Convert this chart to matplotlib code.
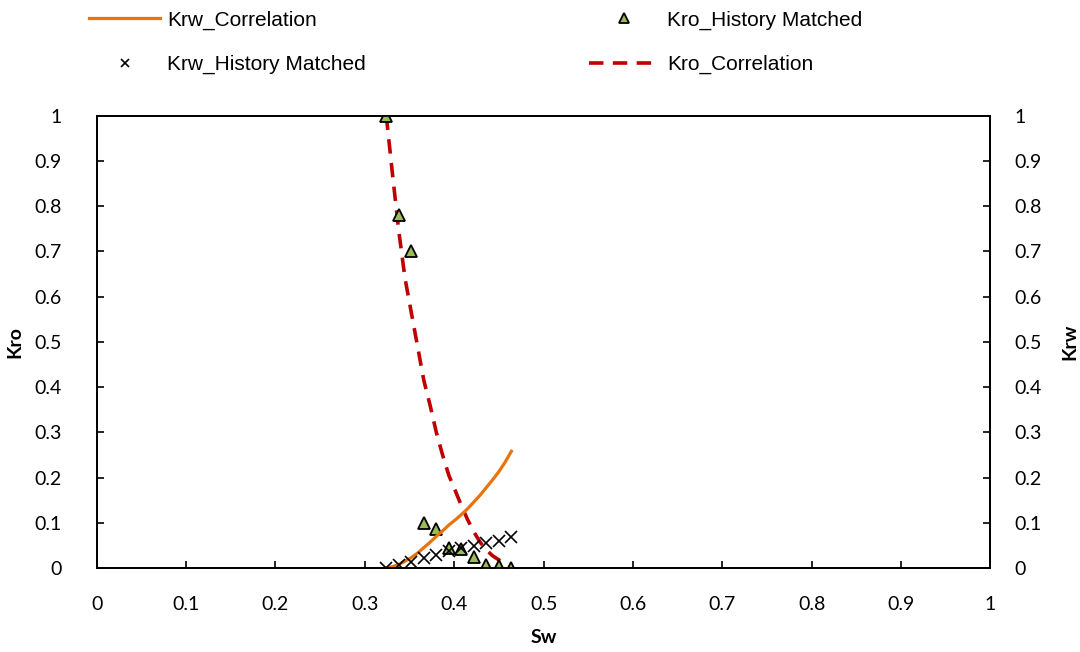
import matplotlib.pyplot as plt
from matplotlib.ticker import MultipleLocator, FormatStrFormatter

# Water saturation for the history-matched points
sw_hm = [0.324, 0.338, 0.352, 0.366, 0.380, 0.394, 0.408, 0.422, 0.436, 0.450, 0.464]
kro_hm = [1.00, 0.78, 0.70, 0.10, 0.087, 0.044, 0.042, 0.024, 0.007, 0.005, 0.0]
krw_hm = [0.0, 0.007, 0.014, 0.023, 0.029, 0.038, 0.044, 0.049, 0.055, 0.060, 0.068]

# Correlation curves
sw_krw_corr = [0.324, 0.331, 0.338, 0.345, 0.352, 0.359, 0.366, 0.373, 0.380, 0.387, 0.394,
               0.401, 0.408, 0.415, 0.422, 0.429, 0.436, 0.443, 0.450, 0.457, 0.464]
krw_corr = [0.0, 0.003, 0.008, 0.015, 0.023, 0.033, 0.045, 0.057, 0.070, 0.082, 0.095,
            0.106, 0.118, 0.131, 0.146, 0.161, 0.178, 0.195, 0.213, 0.234, 0.258]

sw_kro_corr = [0.324, 0.331, 0.338, 0.345, 0.352, 0.359, 0.366, 0.373, 0.380, 0.387,
               0.394, 0.401, 0.408, 0.415, 0.422, 0.429, 0.436, 0.443, 0.450, 0.454]
kro_corr = [1.00, 0.87, 0.745, 0.64, 0.565, 0.49, 0.415, 0.36, 0.30, 0.25,
            0.205, 0.172, 0.138, 0.107, 0.080, 0.057, 0.040, 0.027, 0.018, 0.013]

TICK_FONT = "Lato"
ORANGE = "#E8740F"
RED = "#C00000"
GREEN = "#9BBB59"

fig = plt.figure(figsize=(10.8, 6.52), dpi=100)
ax = fig.add_axes([0.0895, 0.1288, 0.8276, 0.694])
ax2 = ax.twinx()

krw_line, = ax2.plot(sw_krw_corr, krw_corr, color=ORANGE, lw=2.3,
                     label="Krw_Correlation", zorder=2)
krw_pts, = ax2.plot(sw_hm, krw_hm, ls="none", marker="x", ms=8.5, mew=1.2,
                    color="black", label="Krw_History Matched", zorder=3)
kro_pts, = ax.plot(sw_hm, kro_hm, ls="none", marker="^", ms=9, mfc=GREEN,
                   mec="black", mew=1.3, label="Kro_History Matched", zorder=3)
kro_line, = ax.plot(sw_kro_corr, kro_corr, color=RED, lw=2.6, ls=(0, (4.0, 2.6)),
                    label="Kro_Correlation", zorder=2)

# both axes share the same 0-1 range
for a in (ax, ax2):
    a.set_xlim(0, 1)
    a.set_ylim(0, 1)
    a.yaxis.set_major_locator(MultipleLocator(0.1))
    a.yaxis.set_major_formatter(FormatStrFormatter("%g"))
    a.tick_params(direction="in", length=5, width=1.2,
                  labelsize=14, labelfontfamily=TICK_FONT)
    for s in a.spines.values():
        s.set_linewidth(1.3)
ax.xaxis.set_major_locator(MultipleLocator(0.1))
ax.xaxis.set_major_formatter(FormatStrFormatter("%g"))
ax.tick_params(axis="x", pad=20)
ax.tick_params(axis="y", right=False, pad=25)
ax2.tick_params(axis="y", left=False, pad=17)

ax.set_xlabel("Sw", fontsize=14, fontweight="bold", family=TICK_FONT, labelpad=12)
ax.set_ylabel("Kro", fontsize=14, fontweight="bold", family=TICK_FONT, labelpad=8)
ax2.set_ylabel("Krw", fontsize=14, fontweight="bold", family=TICK_FONT, labelpad=14)

fig.legend(handles=[krw_line, krw_pts, kro_pts, kro_line], ncol=2,
           loc="upper left", bbox_to_anchor=(0.069, 1.006), frameon=False,
           prop={"family": "Liberation Sans", "size": 15},
           handlelength=3.4, handletextpad=0.35, columnspacing=10.7,
           labelspacing=1.2, markerscale=0.75, borderpad=0.2)

fig.savefig("out.png", dpi=100)
